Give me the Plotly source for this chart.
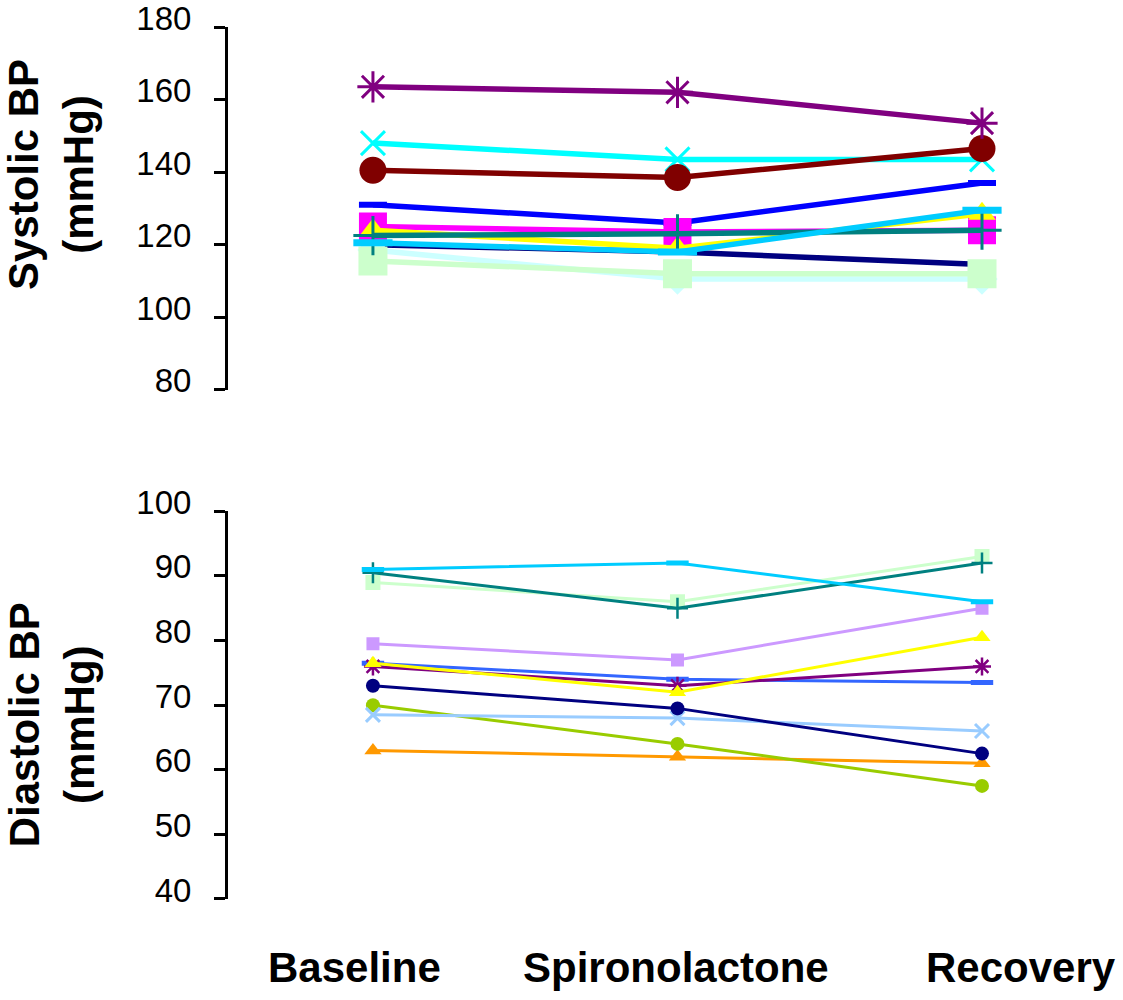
import plotly.graph_objects as go

categories = ["Baseline", "Spironolactone", "Recovery"]

# Systolic BP (mmHg), one list per subject
sbp_navy = [120, 118, 114.5]
sbp_lightcyan = [118.5, 110.5, 110.5]
sbp_lightgreen = [115.5, 112, 112]
sbp_blue = [131, 126, 137]
sbp_magenta = [125, 123.5, 124]
sbp_yellow = [124, 119, 128.5]
sbp_teal = [122.5, 123, 124]
sbp_skyblue = [120.5, 118, 129.5]
sbp_cyan = [148, 143.5, 143.5]
sbp_darkred = [140.5, 138.5, 146.5]
sbp_purple = [163.5, 162, 153.5]

# Diastolic BP (mmHg)
dbp_orange = [63, 62, 61]
dbp_yellowgreen = [70, 64, 57.5]
dbp_lightskyblue = [68.5, 68, 66]
dbp_navy = [73, 69.5, 62.5]
dbp_royalblue = [76.5, 74, 73.5]
dbp_purple = [76, 73, 76]
dbp_yellow = [76.5, 72, 80.5]
dbp_lavender = [79.5, 77, 85]
dbp_lightgreen = [89, 86, 93]
dbp_teal = [90.5, 85, 92]
dbp_skyblue = [91, 92, 86]

sys_ticks = [80, 100, 120, 140, 160, 180]
dia_ticks = [40, 50, 60, 70, 80, 90, 100]

# (values, color, symbol, size, marker line width)
top_series = [
    (sbp_navy, "#000080", "line-ew", 14, 4),
    (sbp_lightcyan, "#CCFFFF", "diamond", 24, 0),
    (sbp_lightgreen, "#CCFFCC", "square", 29, 0),
    (sbp_blue, "#0000FF", "line-ew", 20, 6),
    (sbp_magenta, "#FF00FF", "square", 28, 0),
    (sbp_yellow, "#FFFF00", "triangle-up", 24, 0),
    (sbp_teal, "#008080", "cross-thin", 28, 3),
    (sbp_skyblue, "#00CCFF", "line-ew", 28, 7),
    (sbp_cyan, "#00FFFF", "x-thin", 24, 3),
    (sbp_darkred, "#800000", "circle", 27, 0),
    (sbp_purple, "#800080", "asterisk", 26, 3),
]

bottom_series = [
    (dbp_orange, "#FF9900", "triangle-up", 15, 0),
    (dbp_yellowgreen, "#99CC00", "circle", 14, 0),
    (dbp_lightskyblue, "#99CCFF", "x-thin", 14, 3),
    (dbp_navy, "#000080", "circle", 14, 0),
    (dbp_royalblue, "#3366FF", "line-ew", 16, 5),
    (dbp_purple, "#800080", "asterisk", 15, 2.5),
    (dbp_yellow, "#FFFF00", "triangle-up", 15, 0),
    (dbp_lavender, "#CC99FF", "square", 13, 0),
    (dbp_lightgreen, "#CCFFCC", "square", 15, 0),
    (dbp_teal, "#008080", "cross-thin", 15, 2.5),
    (dbp_skyblue, "#00CCFF", "line-ew", 16, 5),
]

fig = go.Figure()


def add(series, xa, ya, lw):
    for vals, col, sym, size, mlw in series:
        fig.add_trace(go.Scatter(
            x=categories, y=vals, xaxis=xa, yaxis=ya,
            mode="lines+markers",
            line=dict(color=col, width=lw),
            marker=dict(color=col, symbol=sym, size=size,
                        line=dict(color=col, width=mlw)),
            showlegend=False, hoverinfo="skip",
        ))


add(top_series, "x", "y", 5.5)
add(bottom_series, "x2", "y2", 3)

xr = [-0.476, 2.463]
axis_font = dict(family="Liberation Sans, Arial, sans-serif", size=33, color="black")
yax = dict(showline=True, linecolor="black", linewidth=3, ticks="outside",
           ticklen=11, tickwidth=3, tickcolor="black", showgrid=False,
           zeroline=False, tickfont=axis_font, ticklabelstandoff=16,
           ticklabelshift=-9, ticklabeloverflow="allow")

fig.update_layout(
    width=1123, height=1000,
    margin=dict(l=228, r=0, t=24, b=101),
    paper_bgcolor="white", plot_bgcolor="white",
    xaxis=dict(domain=[0, 1], anchor="y", range=xr, visible=False,
               type="category", categoryorder="array", categoryarray=categories),
    xaxis2=dict(domain=[0, 1], anchor="y2", range=xr, visible=False,
                type="category", categoryorder="array", categoryarray=categories),
    yaxis=dict(domain=[0.584, 1.0], range=[80, 180], tickvals=sys_ticks, **yax),
    yaxis2=dict(domain=[0, 0.4446], range=[40, 100], tickvals=dia_ticks, **yax),
)

title_font = dict(family="Liberation Sans, Arial, sans-serif", size=42, color="black")
fig.add_annotation(text="<b>Systolic BP</b><br><b>(mmHg)</b>", textangle=-90,
                   xref="paper", yref="paper", x=-0.197, y=0.831,
                   xanchor="center", yanchor="middle", showarrow=False,
                   font=title_font)
fig.add_annotation(text="<b>Diastolic BP</b><br><b>(mmHg)</b>", textangle=-90,
                   xref="paper", yref="paper", x=-0.197, y=0.2,
                   xanchor="center", yanchor="middle", showarrow=False,
                   font=title_font)

label_shift = [-18, -1, 39]
for cat, sh in zip(categories, label_shift):
    fig.add_annotation(text="<b>" + cat + "</b>", xref="x2", yref="paper",
                       x=cat, y=-0.0789, xshift=sh, xanchor="center",
                       yanchor="middle", showarrow=False, font=title_font)

fig.write_html("out.html", config={"displayModeBar": False},
               post_script="document.body.style.margin='0';document.body.style.padding='0';")
